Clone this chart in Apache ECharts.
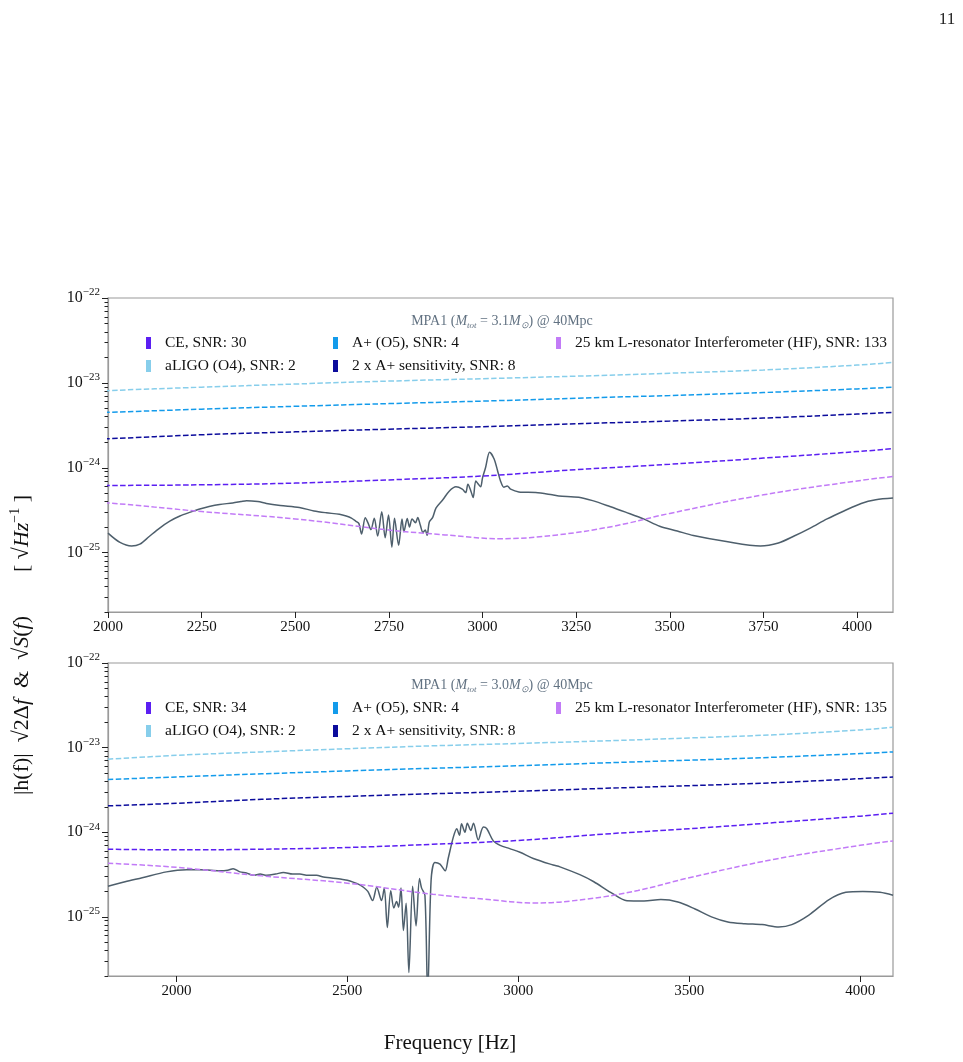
<!DOCTYPE html>
<html>
<head>
<meta charset="utf-8">
<script src="https://cdn.jsdelivr.net/npm/echarts@6/dist/echarts.min.js"></script>
<style>
html, body { margin: 0; padding: 0; background: #fff; }
#chart { width: 963px; height: 1062px; }
</style>
</head>
<body>
<div id="chart"></div>
<script>
// detector sensitivity curves (same PSDs in both panels)
const detFreq = [1800, 2000, 2250, 2500, 2750, 3000, 3250, 3500, 3750, 4000, 4096]
const aligoVals = [7.3e-24, 8.1e-24, 8.9e-24, 9.7e-24, 1.05e-23, 1.12e-23, 1.2e-23, 1.3e-23, 1.42e-23, 1.62e-23, 1.74e-23]
const aplusVals = [4.2e-24, 4.5e-24, 4.9e-24, 5.3e-24, 5.7e-24, 6.1e-24, 6.6e-24, 7.1e-24, 7.7e-24, 8.5e-24, 8.9e-24]
const twoAplusVals = [2.05e-24, 2.2e-24, 2.45e-24, 2.65e-24, 2.85e-24, 3.05e-24, 3.3e-24, 3.55e-24, 3.85e-24, 4.3e-24, 4.5e-24]
const ceVals = [6.3e-25, 6.2e-25, 6.3e-25, 6.6e-25, 7.2e-25, 8.0e-25, 9.5e-25, 1.1e-24, 1.3e-24, 1.55e-24, 1.68e-24]
const hfFreq = [1800, 2000, 2250, 2500, 2750, 2900, 3050, 3200, 3350, 3500, 3750, 4000, 4096]
const hfVals = [4.3e-25, 3.85e-25, 3.05e-25, 2.5e-25, 1.85e-25, 1.62e-25, 1.46e-25, 1.62e-25, 2.05e-25, 2.9e-25, 4.8e-25, 7.0e-25, 7.9e-25]

// signal, M_tot = 3.1
const sigTopFreq = [2000, 2032, 2063, 2085, 2110, 2138, 2165, 2192, 2220, 2245, 2270, 2298, 2333, 2355, 2370, 2400, 2423, 2460, 2511, 2550, 2583, 2618, 2636, 2650, 2662, 2670, 2677, 2687, 2695, 2702, 2711, 2720, 2731, 2740, 2749, 2758, 2765, 2776, 2785, 2790, 2799, 2805, 2812, 2821, 2827, 2834, 2841, 2847, 2852, 2858, 2867, 2876, 2894, 2911, 2929, 2946, 2955, 2961, 2969, 2975, 2982, 2989, 2995, 3000, 3008, 3019, 3031, 3040, 3048, 3057, 3066, 3075, 3097, 3142, 3186, 3204, 3257, 3294, 3340, 3382, 3430, 3473, 3520, 3563, 3651, 3742, 3790, 3832, 3875, 3920, 3965, 4011, 4050, 4096]
const sigTopVals = [1.7e-25, 1.32e-25, 1.2e-25, 1.26e-25, 1.55e-25, 1.95e-25, 2.35e-25, 2.7e-25, 3.0e-25, 3.27e-25, 3.5e-25, 3.7e-25, 3.85e-25, 4.0e-25, 4.1e-25, 4.0e-25, 3.8e-25, 3.6e-25, 3.4e-25, 3.1e-25, 2.95e-25, 2.83e-25, 2.7e-25, 2.55e-25, 2.34e-25, 2.2e-25, 1.66e-25, 2.58e-25, 2.2e-25, 1.87e-25, 2.55e-25, 1.57e-25, 3.04e-25, 1.5e-25, 2.78e-25, 1.16e-25, 2.55e-25, 1.22e-25, 2.5e-25, 1.76e-25, 2.52e-25, 2.0e-25, 2.5e-25, 2.25e-25, 2.6e-25, 2.1e-25, 1.73e-25, 1.85e-25, 1.6e-25, 2.3e-25, 2.6e-25, 3.37e-25, 4.2e-25, 5.3e-25, 5.96e-25, 5.6e-25, 5.1e-25, 6.4e-25, 5.3e-25, 4.46e-25, 7.0e-25, 6.4e-25, 5.96e-25, 7.6e-25, 1.0e-24, 1.52e-24, 1.27e-24, 9.3e-25, 7.0e-25, 5.9e-25, 6.1e-25, 5.6e-25, 5.2e-25, 5.1e-25, 4.8e-25, 4.66e-25, 4.5e-25, 4.1e-25, 3.5e-25, 3.0e-25, 2.5e-25, 2.05e-25, 1.8e-25, 1.59e-25, 1.35e-25, 1.2e-25, 1.3e-25, 1.57e-25, 1.95e-25, 2.5e-25, 3.1e-25, 3.8e-25, 4.2e-25, 4.4e-25]

// signal, M_tot = 3.0
const sigBotFreq = [1800, 1850, 1900, 1971, 2030, 2069, 2100, 2127, 2150, 2166, 2186, 2205, 2225, 2245, 2264, 2290, 2313, 2340, 2361, 2385, 2410, 2430, 2449, 2479, 2500, 2517, 2535, 2547, 2560, 2574, 2586, 2600, 2608, 2617, 2627, 2636, 2644, 2650, 2657, 2664, 2672, 2680, 2691, 2701, 2711, 2717, 2727, 2735, 2745, 2756, 2771, 2786, 2795, 2810, 2820, 2828, 2834, 2844, 2851, 2861, 2869, 2883, 2898, 2908, 2927, 2947, 2975, 3005, 3044, 3102, 3122, 3180, 3221, 3270, 3318, 3368, 3417, 3467, 3517, 3565, 3613, 3663, 3713, 3762, 3800, 3850, 3909, 3958, 4008, 4058, 4096]
const sigBotVals = [2.3e-25, 2.6e-25, 2.9e-25, 3.4e-25, 3.6e-25, 3.6e-25, 3.55e-25, 3.5e-25, 3.55e-25, 3.7e-25, 3.4e-25, 3.3e-25, 3.1e-25, 3.2e-25, 3.1e-25, 3.2e-25, 3.35e-25, 3.2e-25, 3.2e-25, 3.1e-25, 3.1e-25, 2.95e-25, 2.9e-25, 2.8e-25, 2.7e-25, 2.57e-25, 2.4e-25, 2.24e-25, 2.0e-25, 1.56e-25, 2.24e-25, 1.56e-25, 2.2e-25, 7.5e-26, 2.04e-25, 1.27e-25, 1.52e-25, 1.3e-25, 2.2e-25, 6.9e-26, 1.45e-25, 2.2e-26, 2.3e-25, 7.8e-26, 2.84e-25, 2.2e-25, 1.79e-25, 1.2e-26, 2.7e-25, 4.4e-25, 4.2e-25, 3.5e-25, 4.9e-25, 8.75e-25, 1.1e-24, 9.2e-25, 1.26e-24, 1.0e-24, 1.28e-24, 1.05e-24, 1.28e-24, 8.1e-25, 1.15e-24, 1.1e-24, 7.9e-25, 7.0e-25, 6.4e-25, 5.8e-25, 4.9e-25, 4.1e-25, 3.9e-25, 3.15e-25, 2.6e-25, 1.95e-25, 1.55e-25, 1.54e-25, 1.6e-25, 1.5e-25, 1.24e-25, 1.0e-25, 8.7e-26, 8.3e-26, 8.1e-26, 7.6e-26, 8.1e-26, 1.05e-25, 1.6e-25, 1.95e-25, 2.0e-25, 1.95e-25, 1.8e-25]

const topTicks = [2000, 2250, 2500, 2750, 3000, 3250, 3500, 3750, 4000]
const botTicks = [2000, 2500, 3000, 3500, 4000]
const decadeTicks = [-25, -24, -23, -22]   // exponents of the labelled y ticks
const panelTitles = [
  '{n|MPA1 (}{it|M}{sub|tot}{n| = 3.1}{it|M}{sub|⊙}{n|) @ 40Mpc}',
  '{n|MPA1 (}{it|M}{sub|tot}{n| = 3.0}{it|M}{sub|⊙}{n|) @ 40Mpc}'
]
const ceNames = ['CE, SNR: 30', 'CE, SNR: 34']
const hfNames = ['25 km L-resonator Interferometer (HF), SNR: 133', '25 km L-resonator Interferometer (HF), SNR: 135']
const aligoName = 'aLIGO (O4), SNR: 2'
const aplusName = 'A+ (O5), SNR: 4'
const twoAplusName = '2 x A+ sensitivity, SNR: 8'

const FONT = 'Liberation Serif'
const C_CE = '#5b1ff2'
const C_ALIGO = '#87ceeb'
const C_APLUS = '#139beb'
const C_2APLUS = '#0c0c9c'
const C_HF = '#c27bf7'
const C_SIG = '#4e5f6c'
const C_TITLE = '#627282'

const Y_MIN = 2e-26
const Y_MAX = 1e-22
const LOG_MIN = Math.log10(Y_MIN)
const LOG_MAX = Math.log10(Y_MAX)

const grids = [
  { left: 108, top: 298, width: 785, height: 314 },
  { left: 108, top: 663, width: 785, height: 313 }
]

function pairs(fs, vs) { return fs.map((f, i) => [f, vs[i]]) }

// minor tick positions (log10 of 2..9 x 10^n)
const minorLogs = []
for (let n = -26; n <= -23; n++) {
  for (let k = 2; k <= 9; k++) {
    const l = n + Math.log10(k)
    if (l >= LOG_MIN - 1e-9 && l < LOG_MAX) minorLogs.push(l)
  }
}

function detSeries(name, color, fs, vs, p) {
  return {
    name, type: 'line', xAxisIndex: p, yAxisIndex: p * 3,
    data: pairs(fs, vs), symbol: 'none', smooth: 0.4, color,
    lineStyle: { color, width: 1.5, type: [5.5, 2.4] },
    z: 3, silent: true
  }
}

function sigSeries(fs, vs, p) {
  return {
    name: 'signal' + p, type: 'line', xAxisIndex: p, yAxisIndex: p * 3,
    data: pairs(fs, vs), symbol: 'none', smooth: 0.3, color: C_SIG,
    lineStyle: { color: C_SIG, width: 1.5 }, z: 2, silent: true
  }
}

const series = []
const legends = []
const legendCols = [146, 333, 556]
const legendRows = [[335, 358], [700, 723]]

function addLegend(name, col, row, p) {
  legends.push({
    data: [name], left: legendCols[col], top: legendRows[p][row],
    padding: 0, itemGap: 0, selectedMode: false,
    icon: 'rect', itemWidth: 5, itemHeight: 12,
    itemStyle: { borderWidth: 0 },
    textStyle: { fontFamily: FONT, fontSize: 15.5, color: '#111', padding: [0, 0, 0, 9] }
  })
}

for (let p = 0; p < 2; p++) {
  const sf = p === 0 ? sigTopFreq : sigBotFreq
  const sv = p === 0 ? sigTopVals : sigBotVals
  series.push(sigSeries(sf, sv, p))
  series.push(detSeries(ceNames[p], C_CE, detFreq, ceVals, p))
  series.push(detSeries(aligoName, C_ALIGO, detFreq, aligoVals, p))
  series.push(detSeries(aplusName, C_APLUS, detFreq, aplusVals, p))
  series.push(detSeries(twoAplusName, C_2APLUS, detFreq, twoAplusVals, p))
  series.push(detSeries(hfNames[p], C_HF, hfFreq, hfVals, p))
  addLegend(ceNames[p], 0, 0, p)
  addLegend(aligoName, 0, 1, p)
  addLegend(aplusName, 1, 0, p)
  addLegend(twoAplusName, 1, 1, p)
  addLegend(hfNames[p], 2, 0, p)
}

const axisLineStyle = { color: '#9a9a9a', width: 1.2 }
const tickStyle = { color: '#222', width: 1 }
const tickLabel = { fontFamily: FONT, fontSize: 15, color: '#111' }

const xAxes = [
  {
    gridIndex: 0, type: 'value', min: 2000, max: 4096,
    axisLine: { lineStyle: axisLineStyle }, splitLine: { show: false },
    axisTick: { length: 6, lineStyle: tickStyle, customValues: topTicks },
    axisLabel: Object.assign({ margin: 8, customValues: topTicks, formatter: v => String(v) }, tickLabel)
  },
  {
    gridIndex: 1, type: 'value', min: 1800, max: 4096,
    axisLine: { lineStyle: axisLineStyle }, splitLine: { show: false },
    axisTick: { length: 6, lineStyle: tickStyle, customValues: botTicks },
    axisLabel: Object.assign({ margin: 8, customValues: botTicks, formatter: v => String(v) }, tickLabel)
  }
]

const yAxes = []
for (let p = 0; p < 2; p++) {
  // log axis carrying the data
  yAxes.push({
    gridIndex: p, type: 'log', logBase: 10, min: Y_MIN, max: Y_MAX, position: 'left',
    axisLine: { show: true, lineStyle: axisLineStyle }, splitLine: { show: false },
    axisTick: { show: false }, axisLabel: { show: false }
  })
  // decade ticks + labels (exponent axis over the same span)
  yAxes.push({
    gridIndex: p, type: 'value', min: LOG_MIN, max: LOG_MAX, position: 'left',
    axisLine: { show: false }, splitLine: { show: false },
    axisTick: { length: 6, lineStyle: tickStyle, customValues: decadeTicks },
    axisLabel: {
      customValues: decadeTicks, margin: 8, fontFamily: FONT, fontSize: 16, color: '#111', lineHeight: 22,
      formatter: v => '10{sup|−' + Math.round(-v) + '}',
      rich: { sup: { fontFamily: FONT, fontSize: 11, color: '#111', verticalAlign: 'top', lineHeight: 12 } }
    }
  })
  // minor ticks
  yAxes.push({
    gridIndex: p, type: 'value', min: LOG_MIN, max: LOG_MAX, position: 'left',
    axisLine: { show: false }, splitLine: { show: false }, axisLabel: { show: false },
    axisTick: { length: 3.5, lineStyle: tickStyle, customValues: minorLogs }
  })
}

const titleRich = {
  n: { fontFamily: FONT, fontSize: 14, fill: C_TITLE, lineHeight: 18, verticalAlign: 'middle' },
  it: { fontFamily: FONT, fontSize: 14, fontStyle: 'italic', fill: C_TITLE, lineHeight: 18, verticalAlign: 'middle' },
  sub: { fontFamily: FONT, fontSize: 9, fontStyle: 'italic', fill: C_TITLE, lineHeight: 12, verticalAlign: 'bottom' }
}

const graphics = [
  { type: 'text', x: 947, y: 20, style: { text: '11', font: '17px "Liberation Serif"', fill: '#222', align: 'center', verticalAlign: 'middle' } },
  { type: 'text', x: 450, y: 1043, style: { text: 'Frequency [Hz]', font: '21px "Liberation Serif"', fill: '#111', align: 'center', verticalAlign: 'middle' } },
  {
    type: 'text', x: 22, y: 645, rotation: Math.PI / 2,
    style: {
      text: '{n||h(f)|  √2Δ}{i|f}{n|  &  √}{i|S}{n|(}{i|f}{n|)        [ √}{i|Hz}{s|−1}{n| ]}',
      align: 'center', verticalAlign: 'middle',
      rich: {
        n: { fontFamily: FONT, fontSize: 22, fill: '#111', lineHeight: 28 },
        i: { fontFamily: FONT, fontSize: 22, fontStyle: 'italic', fill: '#111', lineHeight: 28 },
        s: { fontFamily: FONT, fontSize: 14, fill: '#111', verticalAlign: 'top', lineHeight: 15 }
      }
    }
  }
]
for (let p = 0; p < 2; p++) {
  graphics.push({
    type: 'text', x: 502, y: p === 0 ? 321 : 685,
    style: { text: panelTitles[p], rich: titleRich, align: 'center', verticalAlign: 'middle' }
  })
}

const chart = echarts.init(document.getElementById('chart'))
chart.setOption({
  backgroundColor: '#fff',
  animation: false,
  grid: grids.map(g => Object.assign({ show: true, borderColor: '#9a9a9a', borderWidth: 1.2, backgroundColor: 'transparent', outerBoundsMode: 'none' }, g)),
  xAxis: xAxes,
  yAxis: yAxes,
  legend: legends,
  graphic: graphics,
  series
})
</script>
</body>
</html>
